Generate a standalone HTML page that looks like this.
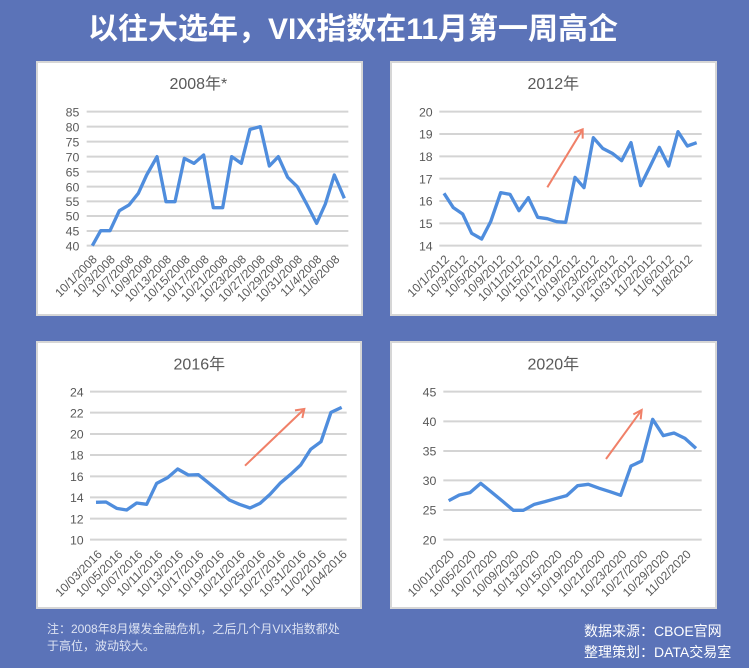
<!DOCTYPE html>
<html><head><meta charset="utf-8"><style>
html,body{margin:0;padding:0;background:#5b73b8;}
svg{display:block;font-family:"Liberation Sans","Noto Sans CJK SC",sans-serif;}
</style></head><body>
<svg width="749" height="668" viewBox="0 0 749 668" xmlns="http://www.w3.org/2000/svg">
<rect width="749" height="668" fill="#5b73b8"/>
<text x="353" y="39" text-anchor="middle" font-size="30" font-weight="bold" fill="#fff">以往大选年，VIX指数在11月第一周高企</text>

<rect x="37" y="62" width="325" height="253" fill="#fff" stroke="#d6d6d6" stroke-width="2"/>
<rect x="391" y="62" width="325" height="253" fill="#fff" stroke="#d6d6d6" stroke-width="2"/>
<rect x="37" y="342" width="324" height="266" fill="#fff" stroke="#d6d6d6" stroke-width="2"/>
<rect x="391" y="342" width="325" height="266" fill="#fff" stroke="#d6d6d6" stroke-width="2"/>

<!-- Chart 1 -->
<g transform="translate(35,60) scale(0.33333)">
<text x="490" y="87" text-anchor="middle" font-size="48" fill="#595959">2008年*</text>
<g stroke="#d4d4d4" stroke-width="6">
<line x1="155" x2="940" y1="155" y2="155"/><line x1="155" x2="940" y1="200" y2="200"/><line x1="155" x2="940" y1="245" y2="245"/><line x1="155" x2="940" y1="290" y2="290"/><line x1="155" x2="940" y1="335" y2="335"/><line x1="155" x2="940" y1="380" y2="380"/><line x1="155" x2="940" y1="424" y2="424"/><line x1="155" x2="940" y1="468" y2="468"/><line x1="155" x2="940" y1="513" y2="513"/><line x1="155" x2="940" y1="557" y2="557"/>
</g>
<g font-size="37" fill="#595959" text-anchor="end">
<text x="133" y="169">85</text><text x="133" y="214">80</text><text x="133" y="259">75</text><text x="133" y="304">70</text><text x="133" y="349">65</text><text x="133" y="394">60</text><text x="133" y="438">55</text><text x="133" y="482">50</text><text x="133" y="527">45</text><text x="133" y="571">40</text>
</g>
<polyline fill="none" stroke="#4f8ddd" stroke-width="10" stroke-linejoin="round" points="172,557 197,512 225,512 253,452 282,435 310,400 335,345 366,290 393,425 420,425 448,295 477,310 506,285 535,443 563,443 590,290 619,310 645,208 676,200 703,318 730,290 758,352 787,380 815,432 845,490 871,432 898,345 928,415"/>
<g font-size="36" fill="#595959" text-anchor="end">
<text transform="translate(188,600) rotate(-45)">10/1/2008</text>
<text transform="translate(242,600) rotate(-45)">10/3/2008</text>
<text transform="translate(298,600) rotate(-45)">10/7/2008</text>
<text transform="translate(353,600) rotate(-45)">10/9/2008</text>
<text transform="translate(411,600) rotate(-45)">10/13/2008</text>
<text transform="translate(467,600) rotate(-45)">10/15/2008</text>
<text transform="translate(524,600) rotate(-45)">10/17/2008</text>
<text transform="translate(580,600) rotate(-45)">10/21/2008</text>
<text transform="translate(636,600) rotate(-45)">10/23/2008</text>
<text transform="translate(692,600) rotate(-45)">10/27/2008</text>
<text transform="translate(748,600) rotate(-45)">10/29/2008</text>
<text transform="translate(804,600) rotate(-45)">10/31/2008</text>
<text transform="translate(862,600) rotate(-45)">11/4/2008</text>
<text transform="translate(916,600) rotate(-45)">11/6/2008</text>
</g>
</g>

<!-- Chart 2 -->
<g transform="translate(390,60) scale(0.33333)">
<text x="490" y="87" text-anchor="middle" font-size="48" fill="#595959">2012年</text>
<g stroke="#d4d4d4" stroke-width="6">
<line x1="148" x2="935" y1="155" y2="155"/><line x1="148" x2="935" y1="222" y2="222"/><line x1="148" x2="935" y1="289" y2="289"/><line x1="148" x2="935" y1="356" y2="356"/><line x1="148" x2="935" y1="423" y2="423"/><line x1="148" x2="935" y1="490" y2="490"/><line x1="148" x2="935" y1="557" y2="557"/>
</g>
<g font-size="37" fill="#595959" text-anchor="end">
<text x="128" y="169">20</text><text x="128" y="236">19</text><text x="128" y="303">18</text><text x="128" y="370">17</text><text x="128" y="437">16</text><text x="128" y="504">15</text><text x="128" y="571">14</text>
</g>
<polyline fill="none" stroke="#4f8ddd" stroke-width="10" stroke-linejoin="round" points="162,400 190,443 218,462 245,520 275,537 302,485 332,398 360,403 387,452 415,413 443,472 472,476 500,485 527,487 555,352 582,383 610,233 638,265 667,280 695,302 723,248 752,377 780,320 808,262 836,318 864,215 892,258 920,248"/>
<g stroke="#f08068" stroke-width="6" fill="none"><line x1="472" y1="382" x2="578" y2="208"/><polyline points="552,218 578,208 578,236"/></g>
<g font-size="36" fill="#595959" text-anchor="end">
<text transform="translate(180,600) rotate(-45)">10/1/2012</text>
<text transform="translate(236,600) rotate(-45)">10/3/2012</text>
<text transform="translate(292,600) rotate(-45)">10/5/2012</text>
<text transform="translate(348,600) rotate(-45)">10/9/2012</text>
<text transform="translate(404,600) rotate(-45)">10/11/2012</text>
<text transform="translate(460,600) rotate(-45)">10/15/2012</text>
<text transform="translate(516,600) rotate(-45)">10/17/2012</text>
<text transform="translate(572,600) rotate(-45)">10/19/2012</text>
<text transform="translate(628,600) rotate(-45)">10/23/2012</text>
<text transform="translate(685,600) rotate(-45)">10/25/2012</text>
<text transform="translate(741,600) rotate(-45)">10/31/2012</text>
<text transform="translate(798,600) rotate(-45)">11/2/2012</text>
<text transform="translate(854,600) rotate(-45)">11/6/2012</text>
<text transform="translate(910,600) rotate(-45)">11/8/2012</text>
</g>
</g>

<!-- Chart 3 -->
<g transform="translate(35,335) scale(0.33333)">
<text x="493" y="104" text-anchor="middle" font-size="48" fill="#595959">2016年</text>
<g stroke="#d4d4d4" stroke-width="6">
<line x1="165" x2="935" y1="170" y2="170"/><line x1="165" x2="935" y1="233" y2="233"/><line x1="165" x2="935" y1="297" y2="297"/><line x1="165" x2="935" y1="360" y2="360"/><line x1="165" x2="935" y1="424" y2="424"/><line x1="165" x2="935" y1="487" y2="487"/><line x1="165" x2="935" y1="551" y2="551"/><line x1="165" x2="935" y1="614" y2="614"/>
</g>
<g font-size="37" fill="#595959" text-anchor="end">
<text x="146" y="184">24</text><text x="146" y="247">22</text><text x="146" y="311">20</text><text x="146" y="374">18</text><text x="146" y="438">16</text><text x="146" y="501">14</text><text x="146" y="565">12</text><text x="146" y="628">10</text>
</g>
<polyline fill="none" stroke="#4f8ddd" stroke-width="10" stroke-linejoin="round" points="183,502 213,501 245,520 275,525 305,504 335,508 365,445 398,428 428,402 460,420 490,419 520,443 553,470 583,495 613,508 645,519 675,505 705,478 735,445 767,418 797,390 827,343 858,320 888,232 920,217"/>
<g stroke="#f08068" stroke-width="6" fill="none"><line x1="630" y1="392" x2="808" y2="222"/><polyline points="780,226 808,222 802,249"/></g>
<g font-size="36" fill="#595959" text-anchor="end">
<text transform="translate(203,660) rotate(-45)">10/03/2016</text>
<text transform="translate(265,660) rotate(-45)">10/05/2016</text>
<text transform="translate(325,660) rotate(-45)">10/07/2016</text>
<text transform="translate(385,660) rotate(-45)">10/11/2016</text>
<text transform="translate(447,660) rotate(-45)">10/13/2016</text>
<text transform="translate(508,660) rotate(-45)">10/17/2016</text>
<text transform="translate(570,660) rotate(-45)">10/19/2016</text>
<text transform="translate(632,660) rotate(-45)">10/21/2016</text>
<text transform="translate(693,660) rotate(-45)">10/25/2016</text>
<text transform="translate(753,660) rotate(-45)">10/27/2016</text>
<text transform="translate(815,660) rotate(-45)">10/31/2016</text>
<text transform="translate(876,660) rotate(-45)">11/02/2016</text>
<text transform="translate(938,660) rotate(-45)">11/04/2016</text>
</g>
</g>

<!-- Chart 4 -->
<g transform="translate(390,335) scale(0.33333)">
<text x="490" y="104" text-anchor="middle" font-size="48" fill="#595959">2020年</text>
<g stroke="#d4d4d4" stroke-width="6">
<line x1="160" x2="935" y1="170" y2="170"/><line x1="160" x2="935" y1="259" y2="259"/><line x1="160" x2="935" y1="348" y2="348"/><line x1="160" x2="935" y1="436" y2="436"/><line x1="160" x2="935" y1="525" y2="525"/><line x1="160" x2="935" y1="614" y2="614"/>
</g>
<g font-size="37" fill="#595959" text-anchor="end">
<text x="139" y="184">45</text><text x="139" y="273">40</text><text x="139" y="362">35</text><text x="139" y="450">30</text><text x="139" y="539">25</text><text x="139" y="628">20</text>
</g>
<polyline fill="none" stroke="#4f8ddd" stroke-width="10" stroke-linejoin="round" points="176,497 208,480 240,473 272,445 303,470 337,498 370,526 400,526 433,508 465,500 500,490 530,482 563,452 595,448 628,460 660,470 692,481 723,393 755,378 788,253 820,302 852,294 885,310 918,340"/>
<g stroke="#f08068" stroke-width="6" fill="none"><line x1="648" y1="372" x2="755" y2="225"/><polyline points="730,238 755,225 752,253"/></g>
<g font-size="36" fill="#595959" text-anchor="end">
<text transform="translate(195,660) rotate(-45)">10/01/2020</text>
<text transform="translate(260,660) rotate(-45)">10/05/2020</text>
<text transform="translate(324,660) rotate(-45)">10/07/2020</text>
<text transform="translate(388,660) rotate(-45)">10/09/2020</text>
<text transform="translate(450,660) rotate(-45)">10/13/2020</text>
<text transform="translate(518,660) rotate(-45)">10/15/2020</text>
<text transform="translate(582,660) rotate(-45)">10/19/2020</text>
<text transform="translate(647,660) rotate(-45)">10/21/2020</text>
<text transform="translate(712,660) rotate(-45)">10/23/2020</text>
<text transform="translate(775,660) rotate(-45)">10/27/2020</text>
<text transform="translate(840,660) rotate(-45)">10/29/2020</text>
<text transform="translate(905,660) rotate(-45)">11/02/2020</text>
</g>
</g>

<g font-size="12" fill="#dde3f3">
<text x="47" y="633">注：2008年8月爆发金融危机，之后几个月VIX指数都处</text>
<text x="47" y="650">于高位，波动较大。</text>
</g>
<g font-size="14" fill="#fff">
<text x="584" y="636">数据来源：CBOE官网</text>
<text x="584" y="657">整理策划：DATA交易室</text>
</g>
</svg>
</body></html>
